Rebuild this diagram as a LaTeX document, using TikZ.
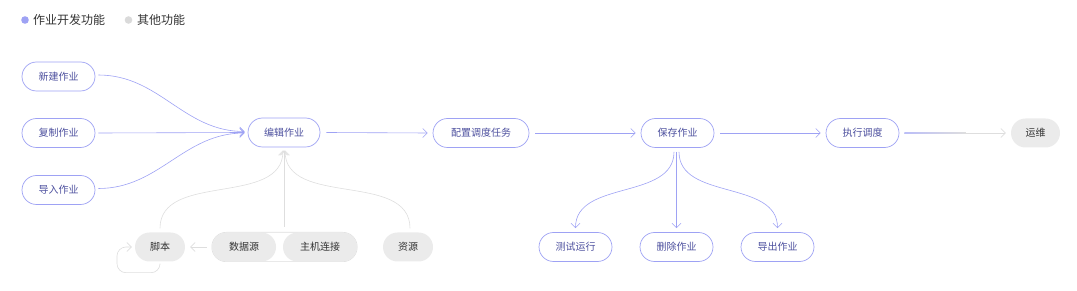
\documentclass[tikz,border=0pt]{standalone}
\usepackage{fontspec}
\setmainfont{Noto Sans CJK SC}
\usetikzlibrary{arrows.meta,fit,backgrounds,calc}
\definecolor{cblue}{HTML}{9EA2F4}
\definecolor{ctext}{HTML}{4E519F}
\definecolor{cfill}{HTML}{EBEBEB}
\definecolor{cline}{HTML}{DEDEDE}
\definecolor{cdark}{HTML}{333333}
\definecolor{cdot}{HTML}{DADADA}
\tikzset{
  bnode/.style={draw=cblue, line width=0.7pt, fill=white, rounded corners=14.5pt,
    minimum height=29pt, inner sep=0pt, text=ctext, font=\fontsize{10}{10}\selectfont},
  gnode/.style={draw=none, fill=cfill, rounded corners=14.5pt,
    minimum height=29pt, inner sep=0pt, text=cdark, font=\fontsize{10}{10}\selectfont},
  tip/.style={-{Straight Barb[length=4.5pt,width=9pt]}},
  bedge/.style={draw=cblue, line width=0.6pt, tip},
  gedge/.style={draw=cline, line width=0.6pt, tip},
  legend/.style={text=cdark, font=\fontsize{12}{12}\selectfont, inner sep=0pt, anchor=west}
}
\begin{document}
\begin{tikzpicture}[x=1pt,y=1pt]
\useasboundingbox (0,0) rectangle (1077,-291);
% legend
\fill[cblue] (25,-20) circle (3.8);
\node[legend] (l1) at (33,-20) {作业开发功能};
\fill[cdot] (128.5,-20) circle (3.8);
\node[legend] (l2) at (137,-20) {其他功能};
% nodes
\node[bnode, minimum width=73pt] (new) at (58.5,-76.5) {新建作业};
\node[bnode, minimum width=73pt] (copy) at (58.5,-133) {复制作业};
\node[bnode, minimum width=73pt] (imp) at (58.5,-190) {导入作业};
\node[bnode, minimum width=72pt] (edit) at (284,-132.5) {编辑作业};
\node[bnode, minimum width=96pt] (cfg) at (481,-133) {配置调度任务};
\node[bnode, minimum width=73pt] (save) at (677.5,-133) {保存作业};
\node[bnode, minimum width=73pt] (exec) at (862.5,-133) {执行调度};
\node[gnode, minimum width=49pt] (ops) at (1035.5,-133) {运维};
\node[gnode, minimum width=50pt] (jb) at (160,-247) {脚本};
\node[gnode, minimum width=64pt] (ds) at (244,-247) {数据源};
\node[gnode, minimum width=74pt] (zj) at (320,-247) {主机连接};
\node[gnode, minimum width=50pt] (zy) at (408,-247) {资源};
\node[bnode, minimum width=73pt] (test) at (575.5,-247) {测试运行};
\node[bnode, minimum width=73pt] (del) at (676.5,-247) {删除作业};
\node[bnode, minimum width=73pt] (exp) at (777.5,-247) {导出作业};
\begin{scope}[on background layer]
\node[fit=(ds)(zj), inner sep=0pt, draw=cline, line width=0.6pt, fill=white,
  rounded corners=14.5pt] (grp) {};
\end{scope}
% left inputs
\draw[bedge] ([xshift=3pt,yshift=1.5pt]new.east) to[out=0,in=180] ([xshift=-3pt,yshift=1pt]edit.west);
\draw[bedge] ([xshift=3pt]copy.east) -- ([xshift=-3pt]edit.west);
\draw[bedge] ([xshift=3pt,yshift=1.5pt]imp.east) to[out=0,in=180] ([xshift=-3pt,yshift=-0.5pt]edit.west);
% main chain
\draw[bedge] ([xshift=6pt]edit.east) -- ([xshift=-5pt]cfg.west);
\draw[bedge] ([xshift=6pt]cfg.east) -- ([xshift=-5pt]save.west);
\draw[bedge] ([xshift=6pt]save.east) -- ([xshift=-5pt]exec.west);
\draw[gedge] ([xshift=5pt]exec.east) -- ([xshift=-5pt]ops.west);
\shade[left color=cblue!70, right color=cline] ([xshift=5pt,yshift=0.3pt]exec.east) rectangle ([xshift=-45pt,yshift=-0.3pt]ops.west);
% save outputs
\draw[bedge] ([xshift=-3.5pt,yshift=-4pt]save.south) to[out=-90,in=90] ([yshift=4pt]test.north);
\draw[bedge] ([xshift=-1pt,yshift=-4pt]save.south) -- ([yshift=4pt]del.north -| {$(save.south)+(-1pt,0)$});
\draw[bedge] ([xshift=1.5pt,yshift=-4pt]save.south) to[out=-90,in=90] ([yshift=4pt]exp.north);
% resources into edit
\draw[gedge] ([yshift=4pt]jb.north) to[out=90,in=-90] ([xshift=-1pt,yshift=-3pt]edit.south);
\draw[gedge] ([yshift=5pt]grp.north -| edit.south) -- ([yshift=-3pt]edit.south);
\draw[gedge] ([xshift=2pt,yshift=4pt]zy.north) to[out=90,in=-90] ([xshift=1pt,yshift=-3pt]edit.south);
% data source to script
\draw[gedge] ([xshift=-5pt]ds.west) -- ([xshift=5pt]jb.east);
% script self loop
\draw[gedge, rounded corners=9pt] ([yshift=-3pt]jb.south) |- ++(-43,-8) |- ([xshift=-3pt]jb.west);
\end{tikzpicture}
\end{document}
